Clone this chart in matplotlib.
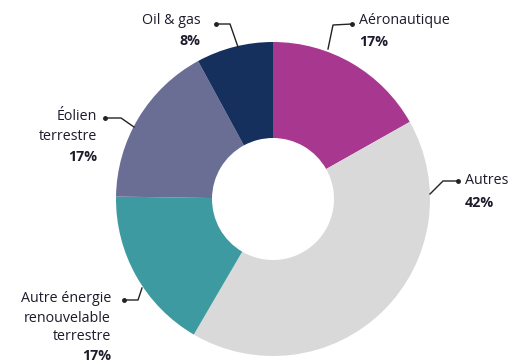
import matplotlib.pyplot as plt

plt.rcParams["font.family"] = ["Open Sans", "DejaVu Sans"]

labels = ["Aéronautique", "Autres", "Autre énergie\nrenouvelable\nterrestre",
          "Éolien\nterrestre", "Oil & gas"]
shares = [17, 42, 17, 17, 8]
colors = ["#a8378f", "#d9d9d9", "#3e9aa1", "#6a6e95", "#15305d"]

W, H = 513, 363
fig = plt.figure(figsize=(W / 100, H / 100), dpi=100)
ax = fig.add_axes([0, 0, 1, 1])

cx, cy, r = 273, H - 199, 157
ax.pie(shares, colors=colors, startangle=90, counterclock=False,
       center=(cx, cy), radius=r, wedgeprops=dict(width=r - 61, linewidth=0),
       frame=True)
ax.set_xlim(0, W)
ax.set_ylim(0, H)
ax.set_aspect("equal")
ax.axis("off")

txt = "#1c1c2c"
fs = 10.3

# (label, pct, text x, text y of first line, line pitch, ha, leader points (image coords))
ann = [
    (labels[4], shares[4], 201, 21, 20, "right", [(216, 24), (230, 24), (238, 47)]),
    (labels[0], shares[0], 359, 21, 21, "left", [(352, 24), (333, 25), (328, 49)]),
    (labels[1], shares[1], 465, 181, 22, "left", [(458, 181), (443, 181), (430, 194)]),
    (labels[3], shares[3], 97, 117, 20, "right", [(105, 118), (121, 118), (134, 127)]),
    (labels[2], shares[2], 111, 299, 19, "right", [(124, 300), (138, 300), (142, 288)]),
]
for name, pct, tx, ty, step, ha, pts in ann:
    lines = name.split("\n")
    for i, line in enumerate(lines):
        ax.text(tx, H - (ty + step * i), line, ha=ha, va="center", fontsize=fs,
                color=txt)
    ax.text(tx, H - (ty + step * len(lines)), f"{pct}%", ha=ha, va="center",
            fontsize=fs, fontweight="bold", color=txt)
    xs = [p[0] for p in pts]
    ys = [H - p[1] for p in pts]
    ax.plot(xs, ys, color="#222222", lw=1)
    ax.plot(xs[0], ys[0], "o", color="#222222", ms=2.5)

fig.savefig("out.png", dpi=100)
